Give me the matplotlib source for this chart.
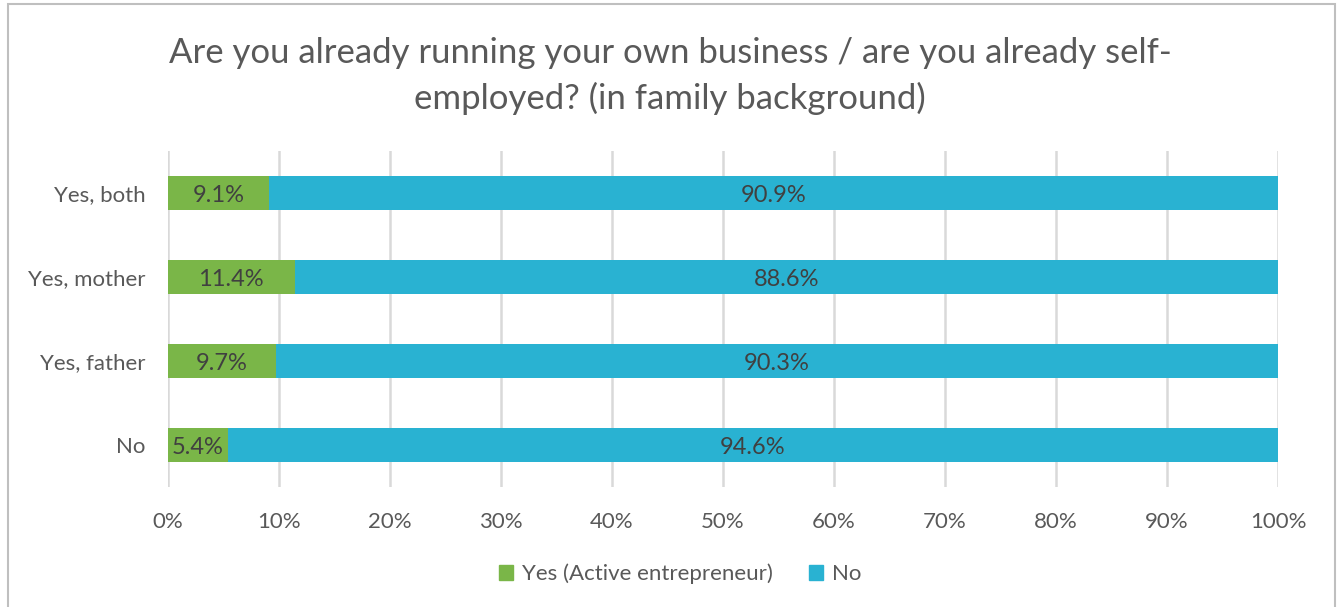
import matplotlib
matplotlib.use("Agg")
import matplotlib.pyplot as plt
from matplotlib.patches import Rectangle, Patch
from matplotlib.ticker import FuncFormatter

plt.rcParams['font.family'] = ['Lato', 'DejaVu Sans']

categories = ["No", "Yes, father", "Yes, mother", "Yes, both"]
yes_active = [5.4, 9.7, 11.4, 9.1]
no_active = [94.6, 90.3, 88.6, 90.9]
series_names = ["Yes (Active entrepreneur)", "No"]
title = "Are you already running your own business / are you already self-\nemployed? (in family background)"

green = "#7AB648"
blue = "#29B2D2"
text_gray = "#595959"
label_gray = "#404040"
grid_gray = "#D9D9D9"

W, H = 1340, 607
fig = plt.figure(figsize=(W / 100, H / 100), dpi=100)

# Chart-area frame
fig.patches.append(Rectangle((8 / W, -0.02), (1335 - 8) / W, 1 - 4 / H + 0.02,
                             transform=fig.transFigure, fill=False,
                             edgecolor="#BFBFBF", linewidth=1.5))

ax = fig.add_axes([168 / W, 1 - 487 / H, (1278 - 168) / W, (487 - 151) / H])

y = list(range(len(categories)))
h = 0.4
ax.barh(y, yes_active, height=h, color=green, label=series_names[0])
ax.barh(y, no_active, left=yes_active, height=h, color=blue, label=series_names[1])

lab_size = 17
for i in y:
    ax.text(yes_active[i] / 2, i, f"{yes_active[i]:.1f}%", ha="center",
            va="center_baseline", fontsize=lab_size, color=label_gray)
    ax.text(yes_active[i] + no_active[i] / 2, i, f"{no_active[i]:.1f}%", ha="center",
            va="center_baseline", fontsize=lab_size, color=label_gray)

ax.set_xlim(0, 100)
ax.set_ylim(-0.5, 3.5)
ax.set_xticks(range(0, 101, 10))
ax.xaxis.set_major_formatter(FuncFormatter(lambda v, p: f"{v:.0f}%"))
ax.set_yticks(y)
ax.set_yticklabels(categories)
ax.tick_params(axis="both", length=0, labelsize=16, labelcolor=text_gray)
ax.tick_params(axis="x", pad=18)
ax.tick_params(axis="y", pad=16)
ax.grid(axis="x", color=grid_gray, linewidth=1.8)
ax.set_axisbelow(True)
for s in ax.spines.values():
    s.set_visible(False)

fig.text(0.5, 1 - 76 / H, title, ha="center", va="center", fontsize=25,
         color=text_gray, linespacing=1.5)

handles = [Patch(color=green), Patch(color=blue)]
fig.legend(handles, series_names, loc="center", bbox_to_anchor=(680 / W, 1 - 574 / H),
           ncol=2, frameon=False, fontsize=16, labelcolor=text_gray,
           handlelength=0.65, handleheight=0.65, handletextpad=0.4, columnspacing=1.6)

fig.savefig("out.png", dpi=100)
